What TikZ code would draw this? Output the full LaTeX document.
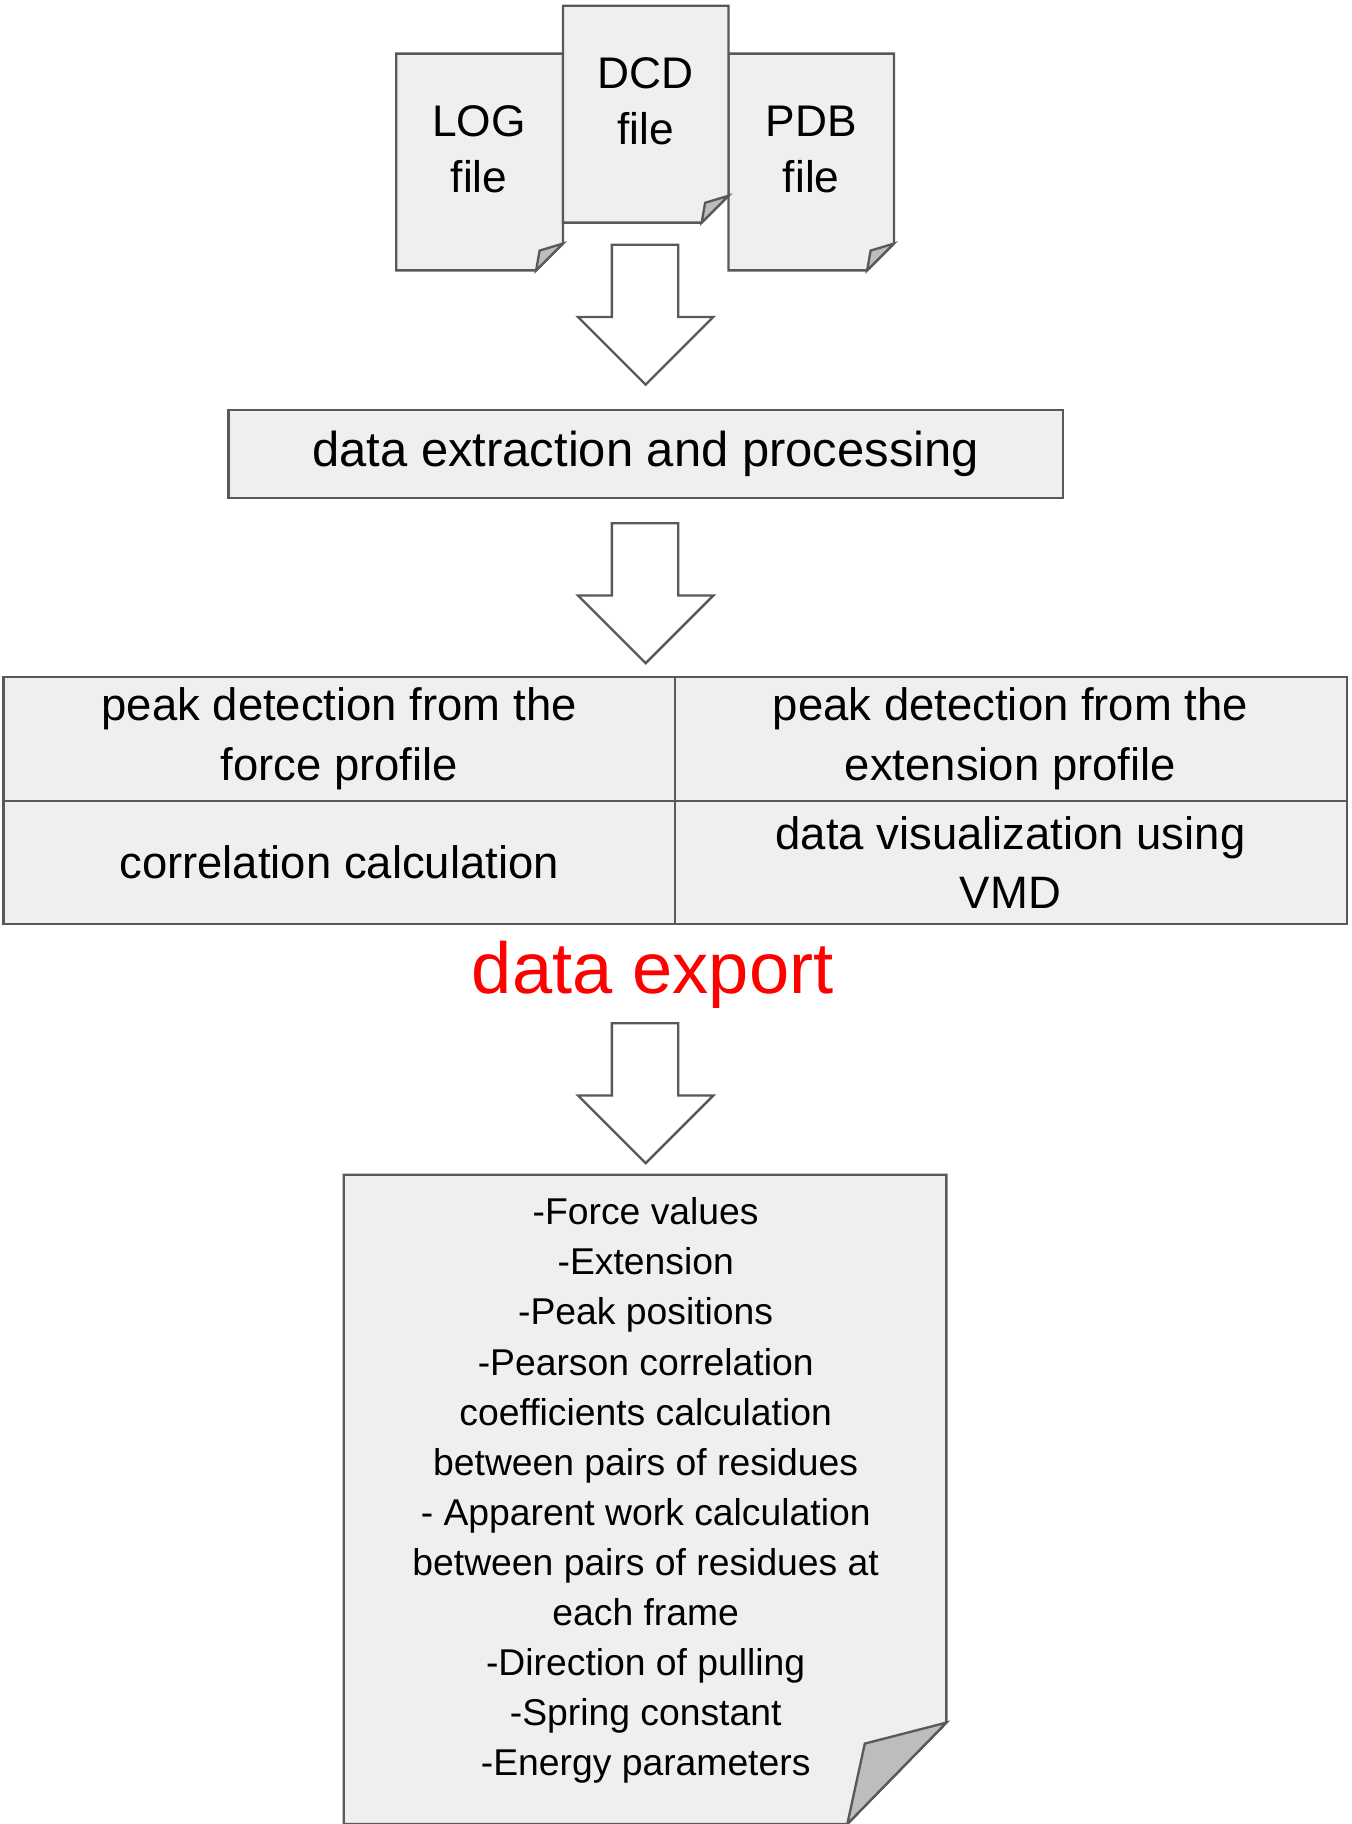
\documentclass[tikz,border=0pt]{standalone}
\usepackage{fontspec}
\setmainfont{Liberation Sans}
\definecolor{boxfill}{HTML}{EFEFEF}
\definecolor{edge}{HTML}{595959}
\definecolor{foldc}{HTML}{BDBDBD}
\begin{document}
\begin{tikzpicture}[x=1pt,y=-1pt,
  shapeline/.style={draw=edge,line width=2pt,fill=boxfill},
  foldline/.style={draw=edge,line width=2pt,fill=foldc},
  arrowshape/.style={draw=edge,line width=2pt,fill=white},
  lbl/.style={align=center,font=\fontsize{38}{48}\selectfont},
  tbl/.style={align=center,font=\fontsize{39}{51}\selectfont},
  lst/.style={align=center,font=\fontsize{32}{43}\selectfont}]
\useasboundingbox[fill=white] (0,0) rectangle (1160,1565);
% documents
\newcommand{\docshape}[5]{% x1 y1 x2 y2 fold
  \draw[shapeline] (#1,#2) -- (#3,#2) -- (#3,{#4-#5}) -- ({#3-#5},#4) -- (#1,#4) -- cycle;
  \draw[foldline] (#3,{#4-#5}) -- ({#3-#5},#4) -- ({#3-#5+3},{#4-#5+6}) -- cycle;}
\docshape{340}{46}{483}{232}{23}
\node[lbl] (log) at (411,128) {LOG\\file};
\docshape{625}{46}{767}{232}{23}
\node[lbl] (pdb) at (696,128) {PDB\\file};
\docshape{483}{5}{625}{191}{23}
\node[lbl] (dcd) at (554,87) {DCD\\file};
% arrows
\newcommand{\bigarrow}[2]{% top y, tip y
  \draw[arrowshape] (525,#1) -- (582,#1) -- (582,{#2-58}) -- (612,{#2-58}) -- (554,#2) -- (496,{#2-58}) -- (525,{#2-58}) -- cycle;}
\bigarrow{210}{330}
\node[shapeline,minimum width=716,minimum height=75,inner sep=0,font=\fontsize{42}{50}\selectfont] (extract) at (554,389.5) {data extraction and processing};
\bigarrow{449}{569}
% table
\draw[shapeline] (3,581) rectangle (1156,793);
\draw[draw=edge,line width=2pt] (579,581) -- (579,793) (3,687) -- (1156,687);
\node[tbl] (c1) at (291,634) {peak detection from the\\force profile};
\node[tbl] (c2) at (867,634) {peak detection from the\\extension profile};
\node[tbl] (c3) at (291,740) {correlation calculation};
\node[tbl] (c4) at (867,740) {data visualization using\\VMD};
\node[text=red,font=\fontsize{62}{70}\selectfont] (export) at (560,836) {data export};
\bigarrow{878}{998}
% output doc
\draw[shapeline] (295,1008) -- (812,1008) -- (812,1478) -- (727,1565) -- (295,1565) -- cycle;
\draw[foldline] (812,1478) -- (727,1565) -- (742,1496) -- cycle;
\node[lst] (list) at (554,1279) {-Force values\\-Extension\\-Peak positions\\-Pearson correlation\\coefficients calculation\\between pairs of residues\\- Apparent work calculation\\between pairs of residues at\\each frame\\-Direction of pulling\\-Spring constant\\-Energy parameters};
\end{tikzpicture}
\end{document}
